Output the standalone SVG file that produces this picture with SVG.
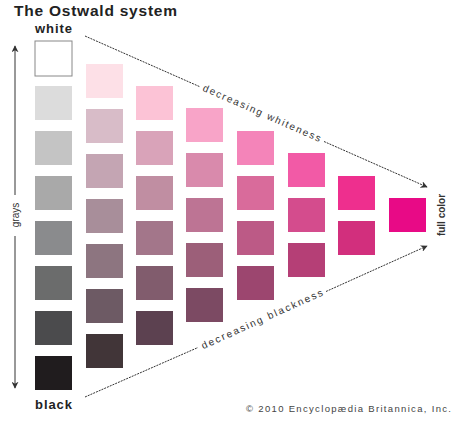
<svg xmlns="http://www.w3.org/2000/svg" width="455" height="421" viewBox="0 0 455 421">
<style>
text{font-family:"Liberation Sans",Arial,sans-serif;fill:#222}
.t{font-size:15.5px;font-weight:bold}
.lb{font-size:13px;font-weight:bold}
.ax{font-size:10px;fill:#333}
.cp{font-size:9.5px;fill:#444}
.con{stroke:#333;stroke-width:1;fill:none}
.dash{stroke-dasharray:2 1}
</style>
<defs>
<marker id="ah" viewBox="0 0 10 10" refX="9" refY="5" markerWidth="7" markerHeight="7" orient="auto-start-reverse" markerUnits="userSpaceOnUse">
<path d="M0,0 L10,5 L0,10 L3,5 Z" fill="#333"/>
</marker>
</defs>
<rect width="455" height="421" fill="#fff"/>
<text class="t" x="14" y="16" textLength="163" lengthAdjust="spacing">The Ostwald system</text>
<text class="lb" x="35" y="33" textLength="37" lengthAdjust="spacing">white</text>
<text class="lb" x="35" y="409" textLength="37" lengthAdjust="spacing">black</text>

<g id="col0">
<rect x="35" y="41" width="37" height="35" fill="#fff" stroke="#888" stroke-width="1"/>
<rect x="35" y="86" width="37" height="34" fill="#dcdcdc"/>
<rect x="35" y="131" width="37" height="34" fill="#c4c4c4"/>
<rect x="35" y="176" width="37" height="34" fill="#a9a9a9"/>
<rect x="35" y="221" width="37" height="34" fill="#8a8b8d"/>
<rect x="35" y="266" width="37" height="34" fill="#6b6c6c"/>
<rect x="35" y="311" width="37" height="34" fill="#4b4b4d"/>
<rect x="35" y="356" width="37" height="34" fill="#201c1e"/>
</g>
<g id="col1">
<rect x="86" y="64" width="37" height="34" fill="#fde0e7"/>
<rect x="86" y="109" width="37" height="34" fill="#d8bcc8"/>
<rect x="86" y="154" width="37" height="34" fill="#c4a5b3"/>
<rect x="86" y="199" width="37" height="34" fill="#a88e9a"/>
<rect x="86" y="244" width="37" height="34" fill="#8d7580"/>
<rect x="86" y="289" width="37" height="34" fill="#6d5a64"/>
<rect x="86" y="334" width="37" height="34" fill="#413538"/>
</g>
<g id="col2">
<rect x="136" y="86" width="37" height="34" fill="#fcc3d6"/>
<rect x="136" y="131" width="37" height="34" fill="#d9a3b9"/>
<rect x="136" y="176" width="37" height="34" fill="#c08ea2"/>
<rect x="136" y="221" width="37" height="34" fill="#a3768a"/>
<rect x="136" y="266" width="37" height="34" fill="#815c6d"/>
<rect x="136" y="311" width="37" height="34" fill="#5c4150"/>
</g>
<g id="col3">
<rect x="186" y="108" width="37" height="34" fill="#f8a4c8"/>
<rect x="186" y="153" width="37" height="34" fill="#d98aac"/>
<rect x="186" y="198" width="37" height="34" fill="#bd7494"/>
<rect x="186" y="243" width="37" height="34" fill="#9c5f79"/>
<rect x="186" y="288" width="37" height="34" fill="#7c4a63"/>
</g>
<g id="col4">
<rect x="237" y="131" width="37" height="34" fill="#f484b9"/>
<rect x="237" y="176" width="37" height="34" fill="#d96b9b"/>
<rect x="237" y="221" width="37" height="34" fill="#bc5a86"/>
<rect x="237" y="266" width="37" height="34" fill="#9c466f"/>
</g>
<g id="col5">
<rect x="288" y="153" width="37" height="34" fill="#f25aa6"/>
<rect x="288" y="198" width="37" height="34" fill="#d44c8d"/>
<rect x="288" y="243" width="37" height="34" fill="#b53f76"/>
</g>
<g id="col6">
<rect x="338" y="176" width="37" height="34" fill="#ee2f8e"/>
<rect x="338" y="221" width="37" height="34" fill="#d22f7d"/>
</g>
<g id="col7">
<rect x="389" y="198" width="37" height="34" fill="#e80a86"/>
</g>

<g id="connectors">
<line class="con" x1="15" y1="195" x2="15" y2="46" marker-end="url(#ah)"/>
<line class="con" x1="15" y1="236" x2="15" y2="388" marker-end="url(#ah)"/>
<path class="con dash" d="M85,36 L200,86.8"/>
<path class="con dash" d="M324,141.5 L427,187" marker-end="url(#ah)"/>
<path class="con dash" d="M85,397 L198,347.5"/>
<path class="con dash" d="M326,291.5 L427,246" marker-end="url(#ah)"/>
</g>

<text class="ax" transform="translate(19,215) rotate(-90)" text-anchor="middle">grays</text>
<text class="ax" style="font-weight:bold" transform="translate(445,215) rotate(-90)" text-anchor="middle">full color</text>
<text class="ax" transform="translate(262,113) rotate(23.8)" text-anchor="middle" dy="3.5" textLength="128" lengthAdjust="spacing">decreasing whiteness</text>
<text class="ax" transform="translate(262,319) rotate(-24.2)" text-anchor="middle" dy="3.5" textLength="132" lengthAdjust="spacing">decreasing blackness</text>
<text class="cp" x="246" y="412" textLength="205" lengthAdjust="spacing">© 2010 Encyclopædia Britannica, Inc.</text>
</svg>
